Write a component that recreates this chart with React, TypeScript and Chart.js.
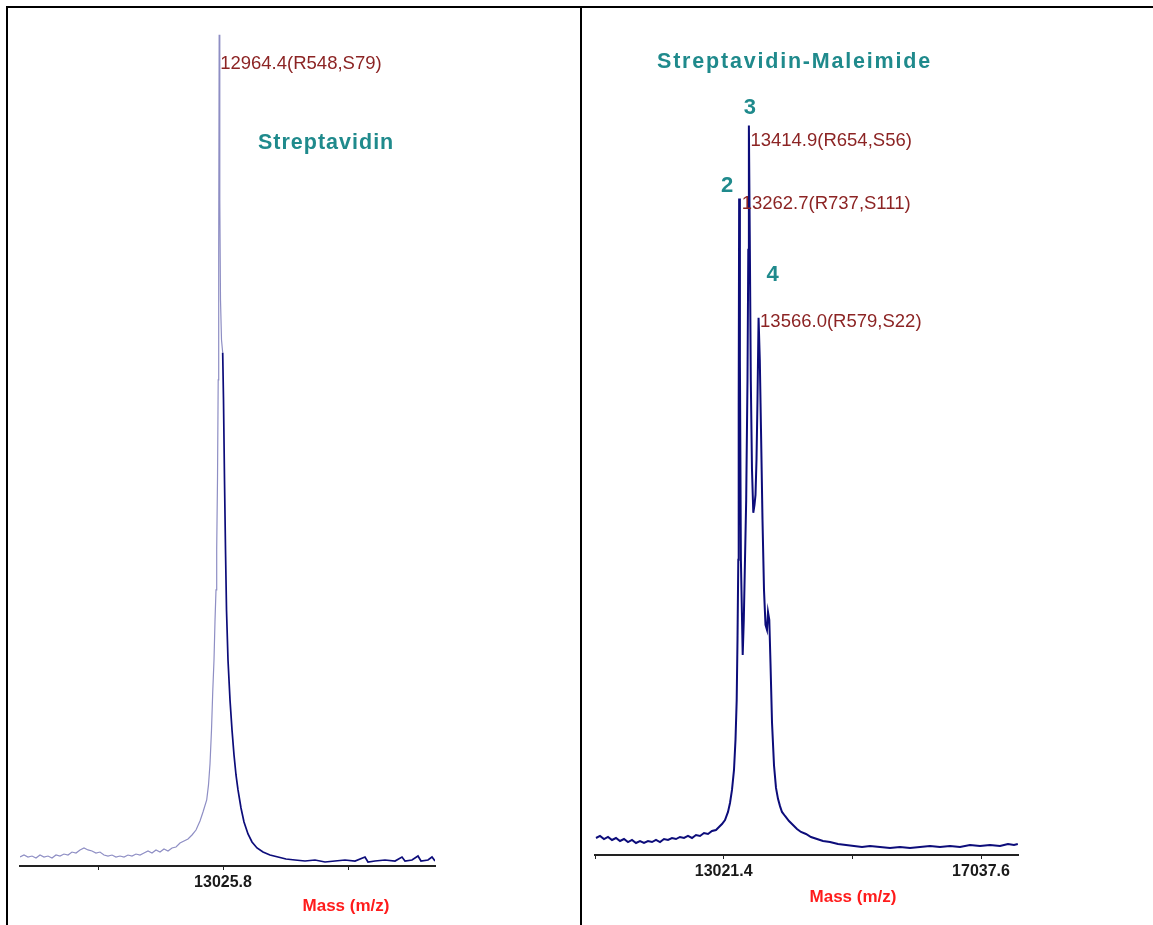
import React, { useEffect, useRef } from "react";
import { Chart, registerables } from "chart.js";

Chart.register(...registerables);

// ---------- Left panel: Streptavidin ----------
const LEFT_MASS = [
  9777.8, 9841.8, 9905.8, 9969.8, 10033.8, 10097.8, 10161.8, 10225.8, 10289.8, 10353.8,
  10417.8, 10481.8, 10545.8, 10609.8, 10673.8, 10737.8, 10801.8, 10865.8, 10929.8, 10993.8,
  11057.8, 11121.8, 11185.8, 11249.8, 11313.8, 11377.8, 11441.8, 11505.8, 11569.8, 11633.8,
  11697.8, 11761.8, 11825.8, 11889.8, 11953.8, 12017.8, 12081.8, 12145.8, 12209.8, 12273.8,
  12337.8, 12401.8, 12465.8, 12529.8, 12593.8, 12657.8, 12705.8, 12765.0, 12793.8, 12817.8,
  12841.8, 12861.0, 12881.8, 12897.8, 12913.8, 12925.0, 12937.8, 12949.0, 12957.0, 12964.4,
  12974.6, 12985.8, 13001.8, 13021.0, 13033.8, 13049.8, 13065.8, 13081.8, 13105.8, 13137.8,
  13169.8, 13201.8, 13233.8, 13265.8, 13313.8, 13361.8, 13425.8, 13489.8, 13569.8, 13665.8,
  13777.8, 13905.8, 14033.8, 14177.8, 14337.8, 14497.8, 14657.8, 14817.8, 14977.8, 15137.8,
  15297.8, 15345.8, 15457.8, 15617.8, 15777.8, 15889.8, 15937.8, 16049.8, 16145.8, 16193.8,
  16305.8, 16369.8, 16417.8,
];
const LEFT_INTENSITY = [
  1.08, 1.32, 1.08, 1.2, 0.96, 1.32, 1.08, 1.2, 0.96, 1.32,
  1.2, 1.44, 1.32, 1.68, 1.56, 1.93, 2.17, 1.93, 1.81, 1.56,
  1.68, 1.32, 1.2, 1.32, 1.08, 1.2, 1.08, 1.32, 1.2, 1.44,
  1.32, 1.56, 1.81, 1.56, 1.93, 1.68, 2.05, 1.81, 2.17, 2.29,
  2.77, 3.01, 3.25, 3.73, 4.33, 5.42, 6.5, 7.94, 9.75, 12.27,
  16.37, 20.82, 24.79, 29.48, 33.21, 38.03, 46.45, 58.48, 74.13, 100,
  80.14, 68.11, 63.3, 61.73, 56.08, 46.45, 38.03, 30.81, 24.79, 19.98,
  16.37, 13.36, 10.95, 9.15, 6.98, 5.29, 3.85, 2.89, 2.17, 1.68,
  1.32, 1.08, 0.84, 0.72, 0.6, 0.72, 0.48, 0.6, 0.72, 0.6,
  1.08, 0.48, 0.6, 0.72, 0.6, 1.08, 0.6, 0.72, 1.2, 0.6,
  0.72, 1.08, 0.6,
];
const LEFT_X_MIN = 9777.8;
const LEFT_X_MAX = 16417.8;
const LEFT_TICKS = [11025.8, 13025.8, 15025.8];
const LEFT_TICK_LABELS = ["", "13025.8", ""];
const LEFT_PEAK_MASS = [12964.4];
const LEFT_PEAK_INTENSITY = [100];
const LEFT_PEAK_LABELS = ["12964.4(R548,S79)"];
const LEFT_TITLE = "Streptavidin";

// ---------- Right panel: Streptavidin-Maleimide ----------
const RIGHT_MASS = [
  11028.9, 11091.3, 11153.8, 11216.2, 11278.6, 11341.0, 11403.5, 11465.9, 11528.3, 11590.7,
  11653.1, 11715.6, 11778.0, 11840.4, 11902.8, 11965.3, 12027.7, 12090.1, 12152.5, 12214.9,
  12277.4, 12339.8, 12402.2, 12464.6, 12527.1, 12589.5, 12651.9, 12714.3, 12776.8, 12839.2,
  12901.6, 12948.4, 12995.1, 13042.1, 13088.9, 13120.1, 13151.3, 13182.5, 13205.9, 13224.7,
  13237.2, 13249.6, 13255.9, 13262.7, 13274.6, 13290.2, 13318.3, 13335.5, 13354.2, 13372.9,
  13393.2, 13405.7, 13414.9, 13429.1, 13444.7, 13463.4, 13483.7, 13502.5, 13518.1, 13533.7,
  13549.3, 13566.0, 13585.2, 13603.9, 13627.3, 13650.7, 13674.1, 13697.5, 13713.1, 13733.4,
  13752.2, 13775.6, 13806.8, 13838.0, 13869.2, 13900.4, 13931.6, 13978.6, 14041.0, 14103.3,
  14165.7, 14228.1, 14306.2, 14384.2, 14477.8, 14571.5, 14680.7, 14805.6, 14930.4, 15055.3,
  15180.1, 15305.0, 15461.0, 15617.1, 15773.1, 15929.2, 16085.3, 16241.3, 16397.4, 16553.4,
  16709.5, 16865.6, 17021.6, 17177.7, 17333.7, 17458.6, 17552.2, 17612.0,
];
const RIGHT_INTENSITY = [
  2.33, 2.61, 2.19, 2.47, 2.06, 2.33, 1.92, 2.19, 1.78, 2.06,
  1.65, 1.92, 1.65, 1.92, 1.78, 2.06, 1.78, 2.19, 2.06, 2.33,
  2.19, 2.47, 2.33, 2.61, 2.33, 2.74, 2.61, 3.02, 2.88, 3.29,
  3.43, 3.84, 4.25, 4.8, 5.9, 7.13, 8.92, 11.66, 15.78, 21.26,
  29.49, 40.47, 62.0, 90.0, 67.9, 40.47, 27.43, 32.24, 40.47, 48.7,
  65.16, 82.99, 100, 84.36, 65.16, 52.81, 46.91, 48.01, 49.38, 54.18,
  62.41, 73.66, 67.9, 58.3, 45.95, 36.35, 31.55, 30.86, 33.33, 32.24,
  26.3, 18.2, 12.3, 9.2, 7.7, 6.7, 5.9, 5.35, 4.66, 4.12,
  3.57, 3.16, 2.88, 2.47, 2.19, 1.92, 1.78, 1.51, 1.37, 1.23,
  1.1, 1.23, 1.1, 0.96, 1.1, 0.96, 1.1, 1.23, 1.1, 1.23,
  1.1, 1.37, 1.23, 1.37, 1.23, 1.51, 1.37, 1.51,
];
const RIGHT_X_MIN = 11013.3;
const RIGHT_X_MAX = 17614.8;
const RIGHT_TICKS = [11013.3, 13021.4, 15029.5, 17037.6];
const RIGHT_TICK_LABELS = ["", "13021.4", "", "17037.6"];
const RIGHT_PEAK_MASS = [13262.7, 13414.9, 13566.0];
const RIGHT_PEAK_INTENSITY = [90.0, 100, 73.66];
const RIGHT_PEAK_LABELS = ["13262.7(R737,S111)", "13414.9(R654,S56)", "13566.0(R579,S22)"];
const RIGHT_PEAK_NUMBERS = ["2", "3", "4"];
const RIGHT_TITLE = "Streptavidin-Maleimide";

const AXIS_TITLE = "Mass (m/z)";

const NAVY = "#0c0c7a";
const LAVENDER = "#8e8ec4";
const TEAL = "#1f8a8c";
const PEAK_RED = "#8c2424";
const AXIS_RED = "#ff1c1c";
const LABEL_FONT = "18.5px 'Liberation Sans', Arial, sans-serif";
const TITLE_FONT = "bold 21.5px 'Liberation Sans', Arial, sans-serif";

type TextItem = {
  text: string;
  font: string;
  color: string;
  align: CanvasTextAlign;
  spacing?: string;
  px?: number;
  py?: number;
  mass?: number;
  value?: number;
  dx?: number;
  dy?: number;
};

function makeTextPlugin(items: TextItem[]) {
  return {
    id: "texts",
    afterDraw(chart: any) {
      const { ctx } = chart;
      const xs = chart.scales.x;
      const ys = chart.scales.y;
      ctx.save();
      for (const t of items) {
        let px = t.px ?? 0;
        let py = t.py ?? 0;
        if (t.mass !== undefined && t.value !== undefined) {
          px = xs.getPixelForValue(t.mass) + (t.dx ?? 0);
          py = ys.getPixelForValue(t.value) + (t.dy ?? 0);
        }
        ctx.font = t.font;
        ctx.fillStyle = t.color;
        ctx.textAlign = t.align;
        ctx.textBaseline = "middle";
        (ctx as any).letterSpacing = t.spacing ?? "0px";
        ctx.fillText(t.text, px, py);
      }
      (ctx as any).letterSpacing = "0px";
      ctx.restore();
    },
  };
}

function buildConfig(opts: {
  mass: number[];
  intensity: number[];
  xmin: number;
  xmax: number;
  ticks: number[];
  tickLabels: string[];
  padding: { left: number; right: number; top: number; bottom: number };
  axisHeight: number;
  segColor: (x: number) => string;
  segWidth: (x: number) => number;
  items: TextItem[];
}) {
  const data = opts.mass.map((m, i) => ({ x: m, y: opts.intensity[i] }));
  return {
    type: "line" as const,
    data: {
      datasets: [
        {
          data,
          borderColor: NAVY,
          borderWidth: 1.5,
          pointRadius: 0,
          tension: 0,
          fill: false,
          segment: {
            borderColor: (c: any) => opts.segColor(c.p0.parsed.x),
            borderWidth: (c: any) => opts.segWidth(c.p0.parsed.x),
          },
        },
      ],
    },
    options: {
      animation: false as const,
      responsive: false,
      devicePixelRatio: 1,
      layout: { padding: opts.padding },
      plugins: {
        legend: { display: false },
        tooltip: { enabled: false },
        title: { display: false },
      },
      scales: {
        x: {
          type: "linear" as const,
          min: opts.xmin,
          max: opts.xmax,
          afterBuildTicks: (s: any) => {
            s.ticks = opts.ticks.map((v) => ({ value: v }));
          },
          afterFit: (s: any) => {
            s.height = opts.axisHeight;
          },
          ticks: {
            autoSkip: false,
            maxRotation: 0,
            minRotation: 0,
            padding: 3,
            color: "#1a1a1a",
            font: { family: "'Liberation Sans', Arial, sans-serif", size: 16, weight: "bold" as const },
            callback: (_v: any, i: number) => opts.tickLabels[i] ?? "",
          },
          grid: {
            display: true,
            drawOnChartArea: false,
            drawTicks: true,
            tickLength: 4,
            color: "#222",
            lineWidth: 1,
          },
          border: { display: true, color: "#222", width: 2 },
        },
        y: {
          display: false,
          min: 0,
          max: 102,
        },
      },
    },
    plugins: [makeTextPlugin(opts.items)],
  };
}

export default function App() {
  const leftRef = useRef<HTMLCanvasElement | null>(null);
  const rightRef = useRef<HTMLCanvasElement | null>(null);

  useEffect(() => {
    const leftItems: TextItem[] = [
      ...LEFT_PEAK_LABELS.map((t, i) => ({
        text: t,
        font: LABEL_FONT,
        color: PEAK_RED,
        align: "left" as CanvasTextAlign,
        mass: LEFT_PEAK_MASS[i],
        value: LEFT_PEAK_INTENSITY[i],
        dx: 1,
        dy: 29,
      })),
      { text: LEFT_TITLE, font: TITLE_FONT, color: TEAL, align: "left", spacing: "1px", px: 250, py: 135 },
      { text: AXIS_TITLE, font: "bold 17px 'Liberation Sans', Arial, sans-serif", color: AXIS_RED, align: "center", px: 338, py: 898 },
    ];
    const rightDx = [2.5, 1.5, 1.5];
    const rightDy = [5.5, 15, 4];
    const numDx = [-12, 1, 14];
    const numDy = [-13, -18, -43];
    const rightItems: TextItem[] = [
      ...RIGHT_PEAK_LABELS.map((t, i) => ({
        text: t,
        font: LABEL_FONT,
        color: PEAK_RED,
        align: "left" as CanvasTextAlign,
        mass: RIGHT_PEAK_MASS[i],
        value: RIGHT_PEAK_INTENSITY[i],
        dx: rightDx[i],
        dy: rightDy[i],
      })),
      ...RIGHT_PEAK_NUMBERS.map((t, i) => ({
        text: t,
        font: "bold 22px 'Liberation Sans', Arial, sans-serif",
        color: TEAL,
        align: "center" as CanvasTextAlign,
        mass: RIGHT_PEAK_MASS[i],
        value: RIGHT_PEAK_INTENSITY[i],
        dx: numDx[i],
        dy: numDy[i],
      })),
      { text: RIGHT_TITLE, font: TITLE_FONT, color: TEAL, align: "left", spacing: "1.8px", px: 75, py: 54 },
      { text: AXIS_TITLE, font: "bold 17px 'Liberation Sans', Arial, sans-serif", color: AXIS_RED, align: "center", px: 271, py: 889 },
    ];

    const left = new Chart(
      leftRef.current as HTMLCanvasElement,
      buildConfig({
        mass: LEFT_MASS,
        intensity: LEFT_INTENSITY,
        xmin: LEFT_X_MIN,
        xmax: LEFT_X_MAX,
        ticks: LEFT_TICKS,
        tickLabels: LEFT_TICK_LABELS,
        padding: { left: 12, right: 145, top: 10, bottom: 0 },
        axisHeight: 59,
        segColor: (x) => (x < 13015 ? LAVENDER : NAVY),
        segWidth: (x) => (x < 13015 ? 1.2 : 1.7),
        items: leftItems,
      }) as any
    );
    const right = new Chart(
      rightRef.current as HTMLCanvasElement,
      buildConfig({
        mass: RIGHT_MASS,
        intensity: RIGHT_INTENSITY,
        xmin: RIGHT_X_MIN,
        xmax: RIGHT_X_MAX,
        ticks: RIGHT_TICKS,
        tickLabels: RIGHT_TICK_LABELS,
        padding: { left: 13, right: 135, top: 103, bottom: 0 },
        axisHeight: 70,
        segColor: () => NAVY,
        segWidth: () => 2,
        items: rightItems,
      }) as any
    );
    return () => {
      left.destroy();
      right.destroy();
    };
  }, []);

  return (
    <div style={{ position: "absolute", left: 0, top: 0, width: 1153, height: 925, background: "#fff", overflow: "hidden" }}>
      <div style={{ position: "absolute", left: 6, top: 6, width: 1147, height: 2, background: "#000" }} />
      <div style={{ position: "absolute", left: 6, top: 6, width: 2, height: 919, background: "#000" }} />
      <div style={{ position: "absolute", left: 580, top: 6, width: 2, height: 919, background: "#000" }} />
      <canvas
        ref={leftRef}
        width={572}
        height={917}
        style={{ position: "absolute", left: 8, top: 8, width: 572, height: 917 }}
      />
      <canvas
        ref={rightRef}
        width={571}
        height={917}
        style={{ position: "absolute", left: 582, top: 8, width: 571, height: 917 }}
      />
    </div>
  );
}
